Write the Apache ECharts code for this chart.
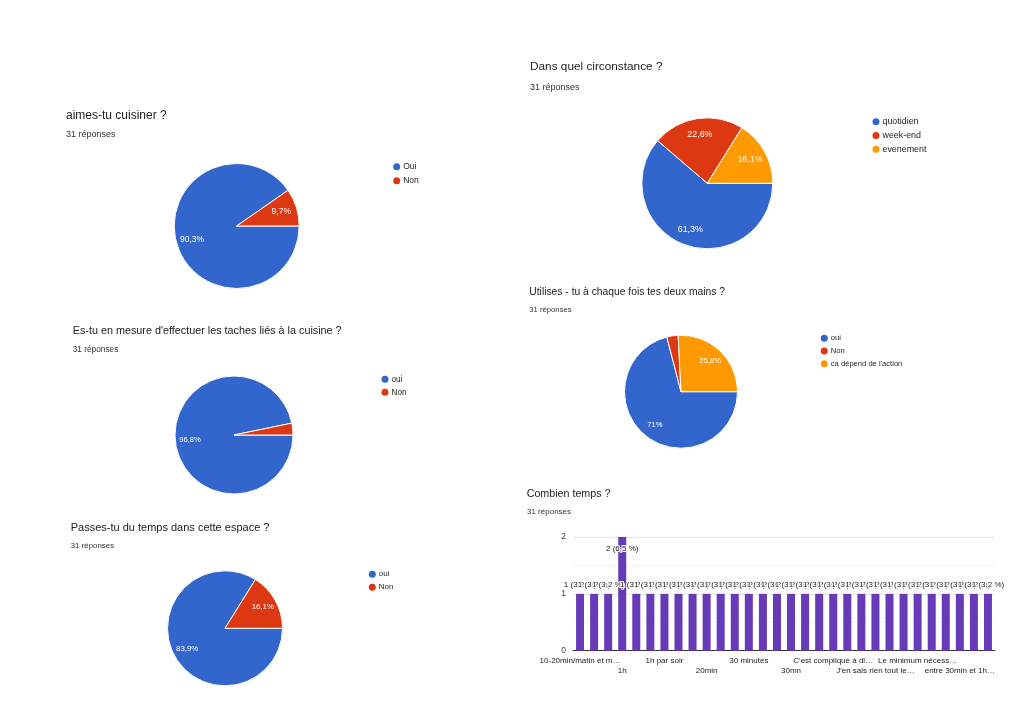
<!DOCTYPE html>
<html>
<head>
<meta charset="utf-8">
<script src="https://cdn.jsdelivr.net/npm/echarts@6/dist/echarts.min.js"></script>
<style>
html,body{margin:0;padding:0;background:#fff;}
#chart{width:1024px;height:720px;}
</style>
</head>
<body>
<div id="chart"></div>
<script>
// ---------- DATA ----------
const pie1Title = 'aimes-tu cuisiner ?';
const pie1Names = ['Oui', 'Non'];
const pie1Values = [28, 3];

const pie2Title = "Es-tu en mesure d'effectuer les taches liés à la cuisine ?";
const pie2Names = ['oui', 'Non'];
const pie2Values = [30, 1];

const pie3Title = 'Passes-tu du temps dans cette espace ?';
const pie3Names = ['oui', 'Non'];
const pie3Values = [26, 5];

const pie4Title = 'Dans quel circonstance ?';
const pie4Names = ['quotidien', 'week-end', 'evenement'];
const pie4Values = [19, 7, 5];

const pie5Title = 'Utilises - tu à chaque fois tes deux mains ?';
const pie5Names = ['oui', 'Non', "ca dépend de l'action"];
const pie5Values = [22, 1, 8];

const barTitle = 'Combien temps ?';
const barCategories = [
  '10-20min/matin et m…', '15 minutes', '1h - 1h30', '1h', '1h minimum', '1h par jour',
  '1h par soir', '1h30', '2h', '20min', '20-30 minutes', '30 min',
  '30 minutes', '30 minutes à 1h', '30min', '30mn', '40 minutes', '45 min',
  "C'est compliqué à di…", 'Environ 1h', 'Entre 20 et 40min', "J'en sais rien tout le…", 'Je ne sais pas', 'La moitié de la journée',
  'Le minimum nécess…', 'Pas beaucoup', 'Plusieurs heures', 'entre 30min et 1h…', 'environ 45 min', 'tous les jours'
];
const barValues = [1,1,1,2,1,1, 1,1,1,1,1,1, 1,1,1,1,1,1, 1,1,1,1,1,1, 1,1,1,1,1,1];
const yMin = 0, yMax = 2, yInterval = 1;
const responsesText = '31 réponses';

// ---------- LAYOUT / STYLE ----------
const FONT = "'Liberation Sans', Arial, Helvetica, sans-serif";
const COLORS = ['#3366cc', '#dc3912', '#ff9900'];
const TITLE_DY = 1.7;
const pies = [
  { title: pie1Title, names: pie1Names, values: pie1Values,
    cx: 236.7, cy: 226, r: 62.5,
    t: { x: 66, y: 114, s: 12 }, sub: { x: 66, y: 133, s: 9 },
    lg: { x: 396.7, y: 166.7, gap: 14, s: 8.5 }, ls: 8.5 },
  { title: pie2Title, names: pie2Names, values: pie2Values,
    cx: 234, cy: 435, r: 59,
    t: { x: 72.7, y: 329.3, s: 10.8 }, sub: { x: 72.7, y: 347.7, s: 8.3 },
    lg: { x: 385, y: 379.3, gap: 13, s: 8.2 }, ls: 7.6 },
  { title: pie3Title, names: pie3Names, values: pie3Values,
    cx: 225, cy: 628.3, r: 57.5,
    t: { x: 70.7, y: 526, s: 11 }, sub: { x: 70.7, y: 543.7, s: 7.9 },
    lg: { x: 372.3, y: 574.3, gap: 13, s: 7.9 }, ls: 7.9 },
  { title: pie4Title, names: pie4Names, values: pie4Values,
    cx: 707.3, cy: 183.3, r: 65.5,
    t: { x: 530, y: 65, s: 11.8 }, sub: { x: 530, y: 85.7, s: 9 },
    lg: { x: 876, y: 121.7, gap: 13.8, s: 8.9 }, ls: 8.9 },
  { title: pie5Title, names: pie5Names, values: pie5Values,
    cx: 681, cy: 391.7, r: 56.5,
    t: { x: 529.3, y: 290, s: 10.3 }, sub: { x: 529.3, y: 308.3, s: 7.7 },
    lg: { x: 824.3, y: 338.3, gap: 12.7, s: 7.6 }, ls: 7.6 }
];
const barLayout = { t: { x: 526.7, y: 492.3, s: 10.7 }, sub: { x: 527, y: 510, s: 8 },
  grid: { left: 573, right: 29, top: 537, bottom: 69.3 } };

function fmtPct(p) {
  let s = p.toFixed(1);
  if (s.endsWith('.0')) s = s.slice(0, -2);
  return s.replace('.', ',');
}
function sum(a) { return a.reduce((x, y) => x + y, 0); }

const titles = [];
const legends = [];
const mainSeries = [];
const labelSeries = [];

function addTitle(text, pos, color) {
  titles.push({
    text: text, left: pos.x, top: pos.y - pos.s / 2 + TITLE_DY, padding: 0,
    textStyle: { fontFamily: FONT, fontSize: pos.s, lineHeight: pos.s, color: color, fontWeight: 'normal' }
  });
}

pies.forEach((p, k) => {
  addTitle(p.title, p.t, '#202124');
  addTitle(responsesText, p.sub, '#333333');
  const total = sum(p.values);
  const data = p.names.map((n, i) => ({ name: n, value: p.values[i], itemStyle: { color: COLORS[i] } }));
  mainSeries.push({
    type: 'pie', name: 'pie' + k, center: [p.cx, p.cy], radius: [0, p.r],
    startAngle: 0, clockwise: true, silent: true, animation: false,
    itemStyle: { borderColor: '#ffffff', borderWidth: 1 },
    label: { show: false }, labelLine: { show: false },
    emphasis: { disabled: true },
    data: data
  });
  labelSeries.push({
    type: 'pie', name: 'lbl' + k, center: [p.cx, p.cy], radius: [p.r * 0.40, p.r],
    startAngle: 0, clockwise: true, silent: true, animation: false,
    minShowLabelAngle: 15,
    itemStyle: { color: 'rgba(0,0,0,0)', borderWidth: 0 },
    label: { show: true, position: 'inside', color: '#ffffff', fontFamily: FONT, fontSize: p.ls,
      formatter: prm => fmtPct(prm.value / total * 100) + '%' },
    labelLine: { show: false },
    emphasis: { disabled: true },
    data: p.names.map((n, i) => ({ name: n, value: p.values[i] }))
  });
  legends.push({
    orient: 'vertical', left: p.lg.x - 3.5, top: p.lg.y - 5, padding: 0,
    itemWidth: 7, itemHeight: 7, itemGap: p.lg.gap - 10, icon: 'circle',
    selectedMode: false,
    itemStyle: { borderWidth: 0 },
    textStyle: { fontFamily: FONT, fontSize: p.lg.s, lineHeight: 10, color: '#222222', padding: [0, 0, 0, -2] },
    data: p.names.map((n, i) => ({ name: n, itemStyle: { color: COLORS[i], borderWidth: 0 } }))
  });
});

addTitle(barTitle, barLayout.t, '#202124');
addTitle(responsesText, barLayout.sub, '#333333');

const barTotal = sum(barValues);
const barMax = Math.max.apply(null, barValues);
const barData = barValues.map(v => v === barMax
  ? { value: v, label: { position: 'insideTop', distance: 8 } }
  : { value: v });

const xLabelBase = { fontFamily: FONT, fontSize: 8, color: '#222222' };
const option = {
  backgroundColor: '#ffffff',
  animation: false,
  title: titles,
  legend: legends,
  grid: [{ left: barLayout.grid.left, right: barLayout.grid.right, top: barLayout.grid.top, bottom: barLayout.grid.bottom, containLabel: false }],
  xAxis: [{
    type: 'category', data: barCategories, gridIndex: 0, position: 'bottom',
    axisLine: { show: true, lineStyle: { color: '#333333', width: 1 } },
    axisTick: { show: false },
    axisLabel: Object.assign({ interval: idx => idx % 6 === 0, margin: 6 }, xLabelBase),
    splitLine: { show: false }
  }, {
    type: 'category', data: barCategories, gridIndex: 0, position: 'bottom',
    axisLine: { show: false }, axisTick: { show: false },
    axisLabel: Object.assign({ interval: idx => idx % 6 === 3, margin: 16.5 }, xLabelBase),
    splitLine: { show: false }
  }],
  yAxis: [{
    type: 'value', min: yMin, max: yMax, interval: yInterval, gridIndex: 0,
    axisLine: { show: false }, axisTick: { show: false },
    axisLabel: { margin: 7, fontFamily: FONT, fontSize: 8.5, color: '#444444' },
    splitLine: { show: true, lineStyle: { color: '#e6e6e6', width: 1 } },
    minorTick: { show: false, splitNumber: 2 },
    minorSplitLine: { show: true, lineStyle: { color: '#f4f4f4', width: 1 } }
  }],
  series: mainSeries.concat(labelSeries).concat([{
    type: 'bar', name: barTitle, xAxisIndex: 0, yAxisIndex: 0,
    barWidth: 8, silent: true,
    itemStyle: { color: '#673ab7' },
    label: {
      show: true, position: 'top', distance: 5,
      fontFamily: FONT, fontSize: 8, color: '#222222',
      textBorderColor: '#ffffff', textBorderWidth: 2,
      formatter: prm => prm.value + ' (' + fmtPct(prm.value / barTotal * 100) + ' %)'
    },
    data: barData
  }])
};

const chart = echarts.init(document.getElementById('chart'), null, { renderer: 'canvas' });
chart.setOption(option);
</script>
</body>
</html>
